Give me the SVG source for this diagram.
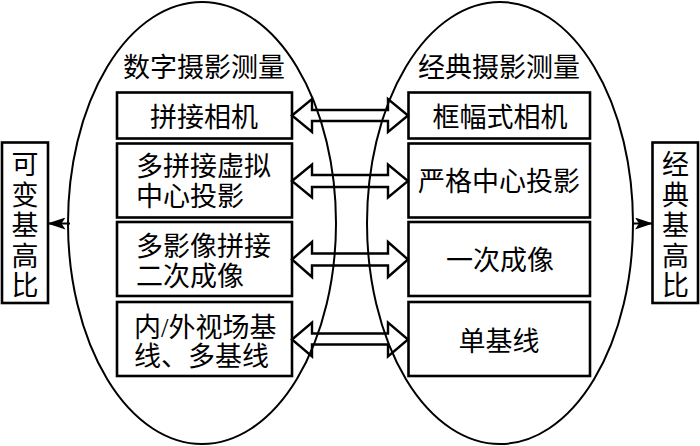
<svg xmlns="http://www.w3.org/2000/svg" width="700" height="446" viewBox="0 0 700 446">
<style>
text{font-family:"Liberation Serif","Noto Sans CJK SC",serif;font-size:27px;fill:#000;}
.c{text-anchor:middle;}
.box{fill:#fff;stroke:#000;stroke-width:2.6;}
.ell{fill:none;stroke:#000;stroke-width:2;}
.dbl{fill:none;stroke:#000;stroke-width:2.4;stroke-linejoin:miter;}
.ln{fill:none;stroke:#000;stroke-width:2;}
</style>
<defs>
<marker id="ah" viewBox="0 0 18 12" refX="17" refY="6" markerWidth="18" markerHeight="12" markerUnits="userSpaceOnUse" orient="auto">
<path d="M0,0 L18,6 L0,12 L4,6 Z" fill="#000"/>
</marker>
</defs>
<g id="ellipse-digital"><ellipse class="ell" cx="202" cy="223" rx="134" ry="221"/><text class="c" x="204" y="77">数字摄影测量</text></g>
<g id="ellipse-classic"><ellipse class="ell" cx="500" cy="223" rx="133" ry="221"/><text class="c" x="499" y="77">经典摄影测量</text></g>
<g id="d1"><rect class="box" x="117" y="92.5" width="175" height="46"/><text class="c" x="204" y="127">拼接相机</text></g>
<g id="d2"><rect class="box" x="117" y="143.5" width="175" height="74"/><text x="136" y="176">多拼接虚拟</text><text x="136" y="206">中心投影</text></g>
<g id="d3"><rect class="box" x="117" y="222" width="175" height="74"/><text x="136" y="255.5">多影像拼接</text><text x="136" y="285.5">二次成像</text></g>
<g id="d4"><rect class="box" x="117" y="302" width="175" height="74"/><text x="134" y="336.5">内/外视场基</text><text x="134" y="365.5">线、多基线</text></g>
<g id="c1"><rect class="box" x="408.5" y="92.5" width="181.5" height="46"/><text class="c" x="500" y="127">框幅式相机</text></g>
<g id="c2"><rect class="box" x="408.5" y="143.5" width="181.5" height="74"/><text class="c" x="499" y="191">严格中心投影</text></g>
<g id="c3"><rect class="box" x="408.5" y="222" width="181.5" height="74"/><text class="c" x="500" y="270">一次成像</text></g>
<g id="c4"><rect class="box" x="408.5" y="302" width="181.5" height="74"/><text class="c" x="499" y="351">单基线</text></g>
<g id="variable-ratio"><rect class="box" x="2" y="142.5" width="46" height="160.5"/>
<text class="c" x="25" y="174">可</text><text class="c" x="25" y="205">变</text><text class="c" x="25" y="235">基</text><text class="c" x="25" y="266">高</text><text class="c" x="25" y="295">比</text></g>
<g id="classic-ratio"><rect class="box" x="652.5" y="142.5" width="45.5" height="160.5"/>
<text class="c" x="675.5" y="174">经</text><text class="c" x="675.5" y="205">典</text><text class="c" x="675.5" y="235">基</text><text class="c" x="675.5" y="266">高</text><text class="c" x="675.5" y="295">比</text></g>
<g id="connectors">
<polygon class="dbl" points="292,115.5 312,99 312,110 388,110 388,99 408,115.5 388,132 388,121 312,121 312,132"/>
<polygon class="dbl" points="292,181 312,164.5 312,175 388,175 388,164.5 408,181 388,197.5 388,187 312,187 312,197.5"/>
<polygon class="dbl" points="292,259.5 312,242 312,253.5 388,253.5 388,242 408,259.5 388,277 388,265.5 312,265.5 312,277"/>
<polygon class="dbl" points="292,339.5 312,322.5 312,333.5 388,333.5 388,322.5 408,339.5 388,356.5 388,344.5 312,344.5 312,356.5"/>
<line class="ln" x1="70" y1="223.5" x2="48.5" y2="223.5" marker-end="url(#ah)"/>
<line class="ln" x1="632" y1="223.5" x2="652" y2="223.5" marker-end="url(#ah)"/>
</g>
</svg>
